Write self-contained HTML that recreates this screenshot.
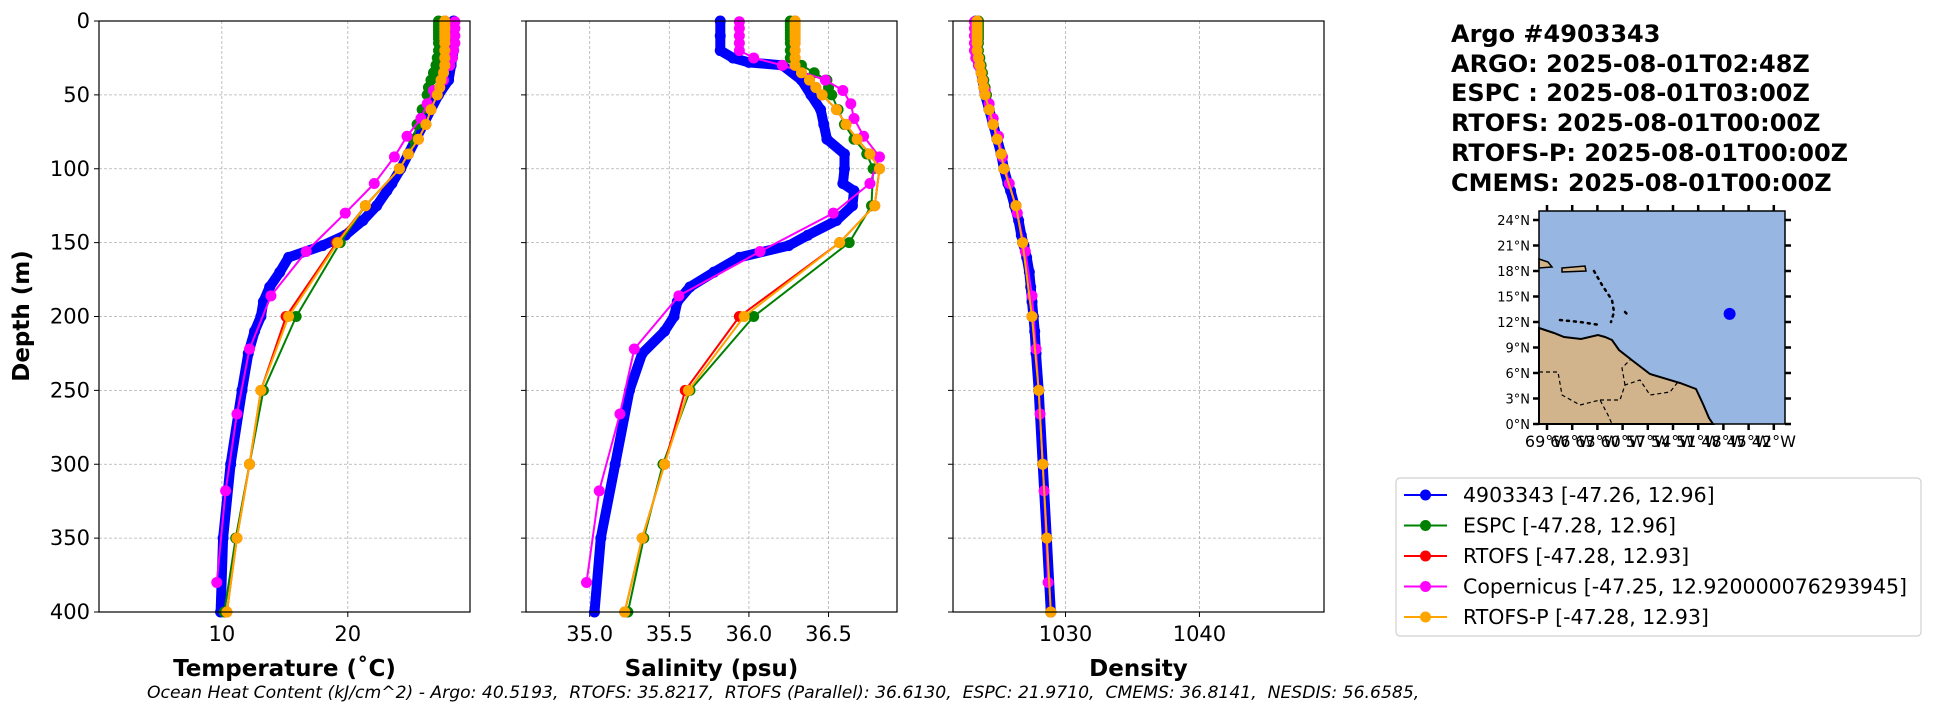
<!DOCTYPE html>
<html><head><meta charset="utf-8"><style>
html,body{margin:0;padding:0;background:#fff;}
svg{display:block;font-family:"DejaVu Sans","Liberation Sans",sans-serif;}
</style></head><body>
<svg id="fig" width="1948" height="712" viewBox="0 0 1948 712" xmlns="http://www.w3.org/2000/svg">
<rect width="1948" height="712" fill="#fff"/>
<g id="panels"></g>
<g id="info" font-weight="bold" font-size="24" fill="#000">
<text x="1451" y="42">Argo #4903343</text>
<text x="1451" y="72">ARGO: 2025-08-01T02:48Z</text>
<text x="1451" y="101">ESPC : 2025-08-01T03:00Z</text>
<text x="1451" y="131">RTOFS: 2025-08-01T00:00Z</text>
<text x="1451" y="161">RTOFS-P: 2025-08-01T00:00Z</text>
<text x="1451" y="191">CMEMS: 2025-08-01T00:00Z</text>
</g>
<g id="map"></g>
<g id="legend"></g>
<text x="147" y="698" font-size="17.2" font-style="italic" style="white-space:pre">Ocean Heat Content (kJ/cm^2) - Argo: 40.5193,  RTOFS: 35.8217,  RTOFS (Parallel): 36.6130,  ESPC: 21.9710,  CMEMS: 36.8141,  NESDIS: 56.6585,</text>
</svg>
<script>
// ---- data ----
const argoDepth=[0,10,20,25,28,30,40,50,60,70,80,90,100,110,115,125,135,145,152,160,170,180,190,200,210,225,250,300,350,400];
const argoTemp=[28.4,28.4,28.4,28.3,28.2,28.2,28.0,27.2,26.6,26.0,25.4,24.8,24.2,23.5,23.1,22.3,21.2,19.8,18.0,15.3,14.6,13.8,13.3,13.1,12.6,12.1,11.6,10.7,10.1,9.9];
const argoSal=[35.82,35.82,35.82,35.9,36.0,36.21,36.33,36.39,36.45,36.47,36.49,36.6,36.6,36.59,36.66,36.65,36.55,36.37,36.25,35.94,35.78,35.63,35.55,35.53,35.47,35.33,35.25,35.16,35.07,35.03];
const argoDens=[1023.3,1023.3,1023.3,1023.4,1023.5,1023.6,1023.8,1024.0,1024.3,1024.6,1024.9,1025.2,1025.4,1025.7,1025.9,1026.2,1026.5,1026.7,1026.9,1027.1,1027.3,1027.4,1027.5,1027.6,1027.7,1027.8,1028.0,1028.3,1028.6,1028.9];
const copDepth=[0.5,5,10,15,20,25,30,40,47,56,66,78,92,110,130,156,186,222,266,318,380];
const copTemp=[28.5,28.5,28.5,28.5,28.4,28.3,28.1,27.6,26.8,26.3,25.8,24.7,23.7,22.1,19.8,16.7,13.9,12.2,11.2,10.3,9.6];
const copSal=[35.94,35.94,35.94,35.94,35.94,36.03,36.21,36.48,36.59,36.64,36.66,36.72,36.82,36.76,36.53,36.07,35.56,35.28,35.19,35.06,34.98];
const copDens=[1023.2,1023.2,1023.2,1023.2,1023.2,1023.3,1023.5,1023.8,1024.0,1024.3,1024.6,1025.0,1025.3,1025.8,1026.4,1027.0,1027.5,1027.8,1028.1,1028.4,1028.7];
const modelDepth=[0,2,4,6,8,10,12,15,20,25,30,35,40,45,50,60,70,80,90,100,125,150,200,250,300,350,400];
const espcTemp=[27.2,27.2,27.2,27.2,27.2,27.2,27.2,27.2,27.2,27.1,27.0,26.8,26.6,26.4,26.3,25.9,25.5,25.2,24.8,24.1,21.4,19.4,15.9,13.3,12.2,11.1,10.2];
const rtofsTemp=[27.7,27.7,27.7,27.7,27.7,27.7,27.7,27.7,27.7,27.7,27.7,27.6,27.4,27.3,27.1,26.6,26.2,25.6,24.8,24.1,21.4,19.1,15.1,13.1,12.2,11.2,10.4];
const rtofspTemp=[27.7,27.7,27.7,27.7,27.7,27.7,27.7,27.7,27.7,27.7,27.7,27.6,27.4,27.3,27.1,26.6,26.2,25.6,24.8,24.1,21.4,19.2,15.3,13.1,12.2,11.2,10.4];
const espcSal=[36.26,36.26,36.26,36.26,36.26,36.26,36.26,36.26,36.26,36.26,36.33,36.41,36.49,36.5,36.52,36.56,36.6,36.66,36.74,36.78,36.77,36.63,36.03,35.63,35.46,35.34,35.24];
const rtofsSal=[36.29,36.29,36.29,36.29,36.29,36.29,36.29,36.29,36.29,36.29,36.29,36.33,36.38,36.42,36.46,36.55,36.61,36.68,36.76,36.82,36.79,36.57,35.94,35.6,35.47,35.33,35.22];
const rtofspSal=[36.29,36.29,36.29,36.29,36.29,36.29,36.29,36.29,36.29,36.29,36.29,36.33,36.38,36.42,36.46,36.55,36.61,36.68,36.76,36.82,36.79,36.57,35.97,35.62,35.47,35.33,35.22];
const espcDens=[1023.5,1023.5,1023.5,1023.5,1023.5,1023.5,1023.5,1023.5,1023.5,1023.6,1023.7,1023.8,1023.9,1024.0,1024.1,1024.3,1024.6,1024.9,1025.2,1025.4,1026.3,1026.8,1027.5,1028.0,1028.3,1028.6,1028.9];
const rtofsDens=[1023.4,1023.4,1023.4,1023.4,1023.4,1023.4,1023.4,1023.4,1023.4,1023.5,1023.6,1023.7,1023.8,1023.9,1024.0,1024.3,1024.6,1024.9,1025.2,1025.4,1026.3,1026.8,1027.5,1028.0,1028.3,1028.6,1028.9];
const rtofspDens=[1023.4,1023.4,1023.4,1023.4,1023.4,1023.4,1023.4,1023.4,1023.4,1023.5,1023.6,1023.7,1023.8,1023.9,1024.0,1024.3,1024.6,1024.9,1025.2,1025.4,1026.3,1026.8,1027.5,1028.0,1028.3,1028.6,1028.9];
const depthTicks=[0,50,100,150,200,250,300,350,400];
const tempTicks=[10,20];
const salTicks=[35.0,35.5,36.0,36.5];
const densTicks=[1030,1040];
const legendLabels=["4903343 [-47.26, 12.96]","ESPC [-47.28, 12.96]","RTOFS [-47.28, 12.93]","Copernicus [-47.25, 12.920000076293945]","RTOFS-P [-47.28, 12.93]"];
const latTicks=[0,3,6,9,12,15,18,21,24];
const lonTicks=[-69,-66,-63,-60,-57,-54,-51,-48,-45,-42];
const floatLon=-47.26, floatLat=12.96;

const NS="http://www.w3.org/2000/svg";
function mk(tag,attrs,parent){const e=document.createElementNS(NS,tag);for(const k in attrs)e.setAttribute(k,attrs[k]);if(parent)parent.appendChild(e);return e;}
const TOP=21,BOT=612;
const yScale=d=>TOP+(d/400)*(BOT-TOP);
const panels=[
 {name:"temperature",x0:99,x1:470,min:0.25,max:29.7,ticks:tempTicks,fmt:v=>String(v),label:"Temperature (˚C)",key:"temp"},
 {name:"salinity",x0:526,x1:897,min:34.6,max:36.93,ticks:salTicks,fmt:v=>v.toFixed(1),label:"Salinity (psu)",key:"sal"},
 {name:"density",x0:953,x1:1324,min:1021.6,max:1049.3,ticks:densTicks,fmt:v=>String(v),label:"Density",key:"dens"}
];
const series=[
 {name:"argo",color:"#0000ff",depth:argoDepth,temp:argoTemp,sal:argoSal,dens:argoDens,lw:10},
 {name:"espc",color:"#008000",depth:modelDepth,temp:espcTemp,sal:espcSal,dens:espcDens,lw:2},
 {name:"rtofs",color:"#ff0000",depth:modelDepth,temp:rtofsTemp,sal:rtofsSal,dens:rtofsDens,lw:2},
 {name:"copernicus",color:"#ff00ff",depth:copDepth,temp:copTemp,sal:copSal,dens:copDens,lw:2},
 {name:"rtofs-p",color:"#ffa500",depth:modelDepth,temp:rtofspTemp,sal:rtofspSal,dens:rtofspDens,lw:2}
];
const root=document.getElementById("panels");
panels.forEach((p,pi)=>{
  const g=mk("g",{},root);
  
  
  const xs=v=>p.x0+(v-p.min)/(p.max-p.min)*(p.x1-p.x0);
  const clipId="clip"+pi;
  const cp=mk("clipPath",{id:clipId},g);mk("rect",{x:p.x0,y:TOP-6,width:p.x1-p.x0,height:BOT-TOP+12},cp);
  depthTicks.forEach(d=>{const l=mk("line",{x1:p.x0,x2:p.x1,y1:yScale(d),y2:yScale(d),stroke:"#b0b0b0","stroke-width":0.8,"stroke-dasharray":"3,2"},g);
    
    
    const t=mk("line",{x1:p.x0-5,x2:p.x0,y1:yScale(d),y2:yScale(d),stroke:"#000","stroke-width":1},g);
    
    
    if(pi===0){const tx=mk("text",{x:p.x0-9,y:yScale(d)+7,"text-anchor":"end","font-size":21},g);tx.textContent=d;
      
      }
  });
  p.ticks.forEach(v=>{const l=mk("line",{x1:xs(v),x2:xs(v),y1:TOP,y2:BOT,stroke:"#b0b0b0","stroke-width":0.8,"stroke-dasharray":"3,2"},g);
    
    
    const t=mk("line",{x1:xs(v),x2:xs(v),y1:BOT,y2:BOT+5,stroke:"#000","stroke-width":1},g);
    
    
    const tx=mk("text",{x:xs(v),y:641,"text-anchor":"middle","font-size":21},g);tx.textContent=p.fmt(v);
    
    
  });
  const sg=mk("g",{"clip-path":"url(#"+clipId+")"},g);
  series.forEach(s=>{
    const vals=s[p.key];
    const pts=s.depth.map((d,i)=>xs(vals[i]).toFixed(1)+","+yScale(d).toFixed(1)).join(" ");
    const pl=mk("polyline",{points:pts,fill:"none",stroke:s.color,"stroke-width":s.lw,"stroke-linejoin":"round","stroke-linecap":"round"},sg);
    
    
    s.depth.forEach((d,i)=>{const c=mk("circle",{cx:xs(vals[i]),cy:yScale(d),r:5.5,fill:s.color},sg);
      
      });
  });
  const fr=mk("rect",{x:p.x0,y:TOP,width:p.x1-p.x0,height:BOT-TOP,fill:"none",stroke:"#000","stroke-width":1.2},g);
  
  
  const lb=mk("text",{x:(p.x0+p.x1)/2,y:676,"text-anchor":"middle","font-size":23,"font-weight":"bold"},g);lb.textContent=p.label;
  
  
});
const yl=mk("text",{x:0,y:0,"text-anchor":"middle","font-size":23,"font-weight":"bold",transform:"translate(29,316) rotate(-90)"},root);
yl.textContent="Depth (m)";



// ---- map ----
const map=document.getElementById("map");
const MX0=1539,MX1=1785,MY0=211,MY1=424;
const lonX=lon=>1547+(lon+69)/3*25.2;
const latY=lat=>424-lat/3*25.5;
const ocean=mk("rect",{x:MX0,y:MY0,width:MX1-MX0,height:MY1-MY0,fill:"#97b6e1"},map);


const land=mk("polygon",{points:"1539,328 1554,333 1564,337 1581,339 1598,335 1605,337 1612,340 1619,350 1633,361 1650,374 1680,383 1696,389 1703,404 1709,418 1713,424 1539,424",fill:"#d2b48c",stroke:"#000","stroke-width":2},map);


const isl=mk("polygon",{points:"1539,259 1548,262 1552,267 1539,268",fill:"#d2b48c",stroke:"#000","stroke-width":1.5},map);


const isl2=mk("polygon",{points:"1562,268 1585,266 1586,271 1562,272",fill:"#d2b48c",stroke:"#000","stroke-width":1.5},map);


const arc=mk("path",{d:"M1594,271 L1602,285 L1612,300 L1614,312 L1611,322 M1625,312 L1627,314 M1560,320 L1580,322 L1600,325",fill:"none",stroke:"#000","stroke-width":2.5,"stroke-dasharray":"2,5","stroke-linecap":"round"},map);


const borders=mk("path",{d:"M1539,372 L1558,372 L1562,395 L1580,405 L1600,400 L1608,415 L1612,424 M1600,400 L1620,400 L1625,385 L1640,380 L1650,395 L1670,392 L1678,382 M1625,385 L1622,368 L1630,360",fill:"none",stroke:"#000","stroke-width":1.2,"stroke-dasharray":"4,3"},map);


const dot=mk("circle",{cx:lonX(floatLon),cy:latY(floatLat),r:6,fill:"#0000ff"},map);


const mf=mk("rect",{x:MX0,y:MY0,width:MX1-MX0,height:MY1-MY0,fill:"none",stroke:"#000","stroke-width":1.5},map);


latTicks.forEach(l=>{const y=latY(l);
  mk("line",{x1:MX0-6,x2:MX0,y1:y,y2:y,stroke:"#000","stroke-width":2.5},map);
  mk("line",{x1:MX1,x2:MX1+6,y1:y,y2:y,stroke:"#000","stroke-width":2.5},map);
  const t=mk("text",{x:MX0-9,y:y+5,"text-anchor":"end","font-size":13},map);t.textContent=l+"°N";
  
  
});
lonTicks.forEach(l=>{const x=lonX(l);
  mk("line",{x1:x,x2:x,y1:MY1,y2:MY1+6,stroke:"#000","stroke-width":2.5},map);
  mk("line",{x1:x,x2:x,y1:MY0-6,y2:MY0,stroke:"#000","stroke-width":2.5},map);
  const t=mk("text",{x:x,y:447,"text-anchor":"middle","font-size":16},map);t.textContent=Math.abs(l)+"°W";
  
  
});

// ---- legend ----
const lg=document.getElementById("legend");
mk("rect",{x:1396,y:478,width:525,height:158,rx:4,fill:"#fff",stroke:"#d0d0d0","stroke-width":1.2},lg);
series.forEach((s,i)=>{
  const y=495+i*30.5;
  const e=mk("g",{},lg);
  
  
  mk("line",{x1:1404,x2:1447,y1:y,y2:y,stroke:s.color,"stroke-width":2},e);
  mk("circle",{cx:1425.5,cy:y,r:5.5,fill:s.color},e);
  const t=mk("text",{x:1463,y:y+7,"font-size":20.5},e);t.textContent=legendLabels[i];
});
</script>
</body></html>
